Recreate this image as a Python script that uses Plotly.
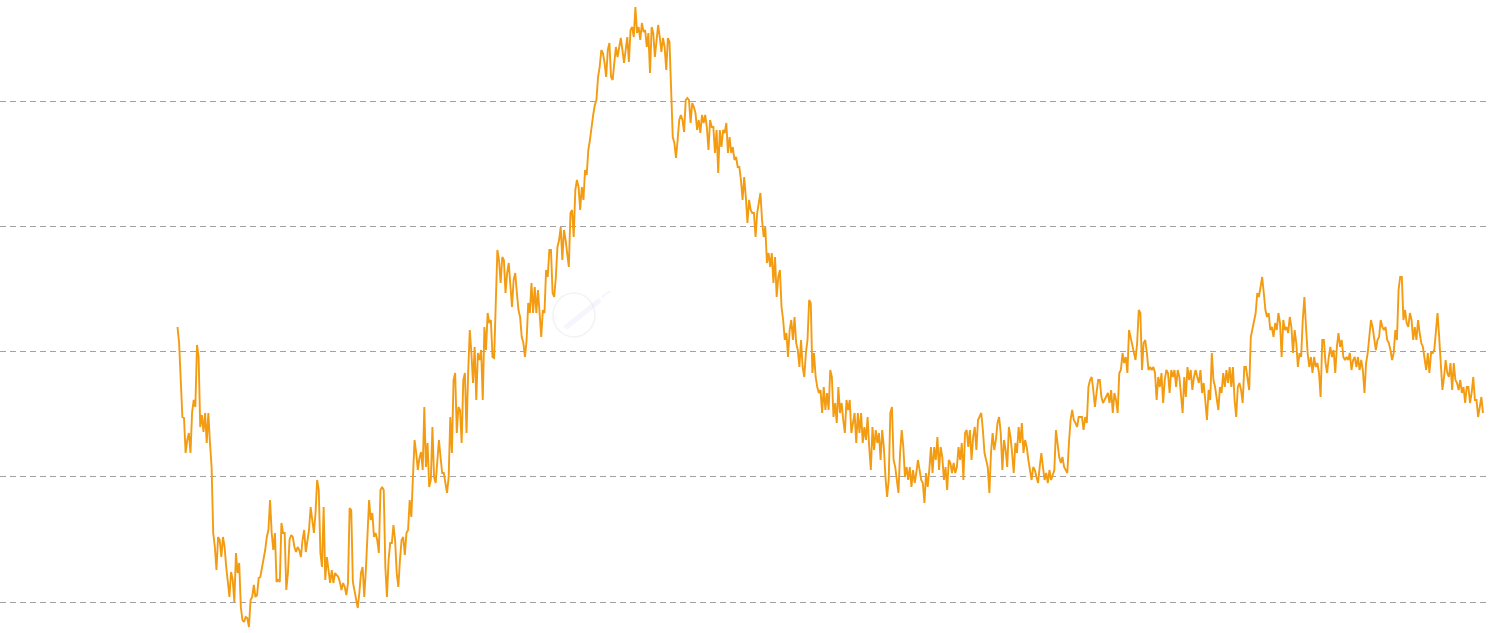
import plotly.graph_objects as go

# Series values (arbitrary price units), in order
seg_a = [313, 297, 260, 223, 222, 187, 200, 207, 187, 228,
         240, 233, 295, 283, 213, 225, 208, 227, 197, 227,
         197, 173, 107, 93, 70, 103, 100, 83, 103, 93,
         73, 57, 43, 68, 60, 38, 87, 67, 77, 33,
         20, 18, 23, 22, 13, 40, 43, 55, 43, 45,
         62, 63, 72, 78, 90, 103, 110, 140, 107, 90,
         107, 58, 60, 58, 117, 107, 107, 50, 67, 100,
         105, 103, 93, 88, 93, 90, 83, 100, 110, 88,
         100, 110, 133, 120, 107, 127, 160, 150, 87, 73,
         133, 60, 83, 70, 57, 70, 57, 67, 65, 63,
         58, 50, 57, 53, 45, 57, 132, 130, 58, 50,
         40, 32, 47, 67, 73, 43, 70, 113, 140, 120,
         127, 103, 107, 100, 87, 150, 153, 150, 73, 43,
         80, 97, 97, 115, 100, 67, 53, 80, 100, 103,
         85, 107, 110, 140, 123, 163, 200, 187, 170, 182]

seg_b = [188, 170, 233, 173, 197, 153, 160, 213, 163, 157,
         183, 200, 183, 167, 167, 157, 147, 163, 223, 187,
         260, 267, 207, 233, 230, 197, 260, 267, 207, 267,
         310, 287, 257, 293, 240, 287, 280, 290, 240, 313,
         290, 327, 317, 320, 283, 282, 343, 390, 380, 357,
         383, 380, 347, 367, 377, 353, 333, 360, 367, 347,
         330, 323, 303, 297, 283, 300, 337, 327, 357, 327,
         353, 327, 350, 327, 303, 330, 327, 370, 363, 390,
         390, 347, 343, 363, 393, 400, 413, 380, 410, 400,
         383, 373, 427, 430, 403, 450, 460, 453, 430, 453,
         440, 470, 465, 490, 500, 515, 525, 535, 540]

seg_c = [563, 573, 590, 587, 577, 563, 590, 597, 563, 560,
         577, 593, 583, 593, 602, 590, 577, 590, 603, 578,
         610, 613, 603, 633, 607, 613, 600, 617, 608, 610,
         593, 607, 567, 613, 607, 583, 603, 615, 603, 588,
         602, 593, 570, 602, 598, 540, 503, 497, 482, 500,
         520, 525, 520, 508, 540, 542, 540, 517, 537, 533,
         527, 510, 520, 507, 525, 517, 525, 513, 490, 520,
         513, 513, 487, 510, 467, 510, 493, 510, 507, 517,
         487, 503, 487, 493, 480, 483, 473, 473, 460, 440,
         463, 443, 417, 440, 430, 427, 427, 403, 427, 437,
         447, 420, 403, 413, 377, 387, 373, 387, 357, 383,
         343, 363, 370, 333, 320, 300, 307, 283, 310, 320,
         300, 323, 297, 290, 273, 300, 273, 263, 287, 300,
         340, 337, 267, 287, 263, 253, 247]

seg_d = [250, 227, 253, 230, 247, 230, 270, 263, 223, 237,
         217, 253, 227, 237, 220, 207, 240, 230, 240, 207, 217,
         227, 197, 227, 207, 227, 197, 213, 200, 223, 193,
         170, 213, 190, 210, 197, 207, 180, 210, 193, 163,
         143, 160, 227, 233, 180, 173, 160, 147, 187, 210,
         193, 163, 173, 160, 173, 153, 170, 157, 167, 180, 170,
         160, 157, 137, 167, 153, 170, 193, 167, 193, 180,
         203, 170, 193, 183, 160, 173, 150, 180, 177, 167,
         177, 167, 173, 193, 180, 197, 160, 207, 210, 193,
         210, 180, 203, 213, 190, 220, 223, 227, 210, 187, 180,
         173, 147, 187, 207, 190, 200, 217, 223, 207, 170,
         200, 190, 173, 213, 203, 187, 167, 197, 187, 213,
         197, 217, 187, 200, 193, 180, 170, 160, 173, 170,
         163, 157, 173, 187, 173, 160, 167, 157, 170, 160, 165,
         170, 210, 197, 183, 177, 183, 173, 170, 167, 197,
         220, 230, 220, 217, 213, 223, 223]

seg_e = [223, 210, 223, 217, 253, 260, 263, 250, 233, 247,
         260, 260, 243, 237, 240, 243, 247, 237, 250, 227,
         247, 240, 227, 267, 270, 287, 277, 283, 267, 310, 303,
         297, 287, 280, 297, 330, 327, 270, 297, 300, 287,
         270, 273, 270, 273, 267, 240, 263, 253, 267, 237,
         260, 270, 267, 247, 270, 263, 270, 253, 270, 263,
         247, 227, 263, 243, 273, 260, 270, 250, 263, 270, 263,
         257, 270, 247, 257, 240, 220, 250, 240, 287, 260,
         253, 243, 230, 253, 247, 267, 253, 270, 257, 273,
         253, 273, 240, 223, 253, 257, 250, 237, 273, 273, 262,
         250, 303, 310, 317, 327, 347, 343, 353, 363, 347,
         330, 323, 327, 310, 313, 303, 317, 310, 327, 317,
         283]

seg_f = [320, 310, 313, 307, 323, 313, 287, 310, 297, 273,
         287, 283, 320, 343, 313, 287, 273, 283, 267, 283,
         273, 277, 267, 243, 300, 300, 277, 267, 283, 293,
         283, 290, 267, 293, 307, 293, 300, 283, 280, 283,
         280, 287, 270, 280, 283, 273, 283, 270, 280, 270,
         247, 277, 287, 303, 320, 313, 300, 290, 300, 303,
         320, 313, 310, 313, 300, 297, 290, 280, 287, 310,
         300, 350, 363, 363, 320, 330, 317, 313, 327, 320,
         300, 313, 300, 320, 307, 297, 293, 283, 270, 287,
         267, 287, 287, 290, 313, 327, 303, 270, 250, 263,
         280, 267, 263, 277, 250, 277, 260, 257, 250, 260,
         247, 253, 237, 253, 253, 237, 247, 263, 240, 240,
         223, 233, 243, 227]

values = seg_a + seg_b + seg_c + seg_d + seg_e + seg_f
index = list(range(len(values)))

grid_levels = [38, 163.25, 288.5, 413.75, 539]

W, H = 1490, 633
n = len(values)
step = (1483 - 177.5) / (n - 1)
x_range = [-177.5 / step, (W - 177.5) / step]

fig = go.Figure()
fig.add_trace(go.Scatter(
    x=index, y=values, mode="lines",
    line=dict(color="#f39c12", width=1.9),
    hoverinfo="skip", showlegend=False,
))

# faint watermark logo in the middle of the chart
fig.add_shape(type="circle", xref="paper", yref="paper",
              x0=0.3711, x1=0.3993, y0=0.4676, y1=0.5371,
              line=dict(color="#f2f3f6", width=1.5), layer="below")
fig.add_shape(type="line", xref="paper", yref="paper",
              x0=0.3792, y0=0.4818, x1=0.4027, y1=0.5261,
              line=dict(color="rgba(215,210,248,0.22)", width=5), layer="below")
fig.add_shape(type="line", xref="paper", yref="paper",
              x0=0.4040, y0=0.5310, x1=0.4094, y1=0.5403,
              line=dict(color="rgba(215,210,248,0.22)", width=2), layer="below")

fig.update_layout(
    width=W, height=H,
    margin=dict(l=0, r=0, t=0, b=0, pad=0),
    paper_bgcolor="white", plot_bgcolor="white",
    xaxis=dict(range=x_range, showgrid=False, zeroline=False,
               showticklabels=False, ticks="", showline=False),
    yaxis=dict(range=[7, 640], tickmode="array", tickvals=grid_levels,
               showgrid=True, gridcolor="#a3a3a3", gridwidth=1,
               griddash="6px,4px", zeroline=False,
               showticklabels=False, ticks="", showline=False),
)

fig.write_html(
    "out.html",
    config={"displayModeBar": False},
    post_script="document.body.style.margin='0';document.body.style.overflow='hidden';",
)
